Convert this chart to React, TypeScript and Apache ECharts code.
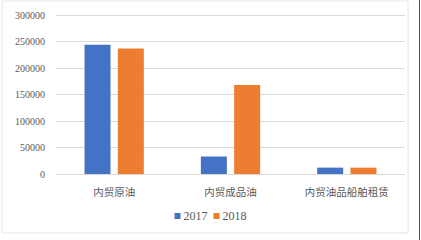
import React, { useEffect, useRef } from "react";
import * as echarts from "echarts";

const categories = ["内贸原油", "内贸成品油", "内贸油品船舶租赁"];
const seriesNames = ["2017", "2018"];
const values2017 = [244000, 33000, 12000];
const values2018 = [237000, 168000, 12000];
const colors = ["#4472C4", "#ED7D31"];

export default function App() {
  const ref = useRef<HTMLDivElement>(null);
  useEffect(() => {
    if (!ref.current) return;
    const chart = echarts.init(ref.current, null, { renderer: "svg" });
    const font = "'Liberation Serif', 'Noto Sans CJK SC', serif";
    chart.setOption({
      animation: false,
      backgroundColor: "#ffffff",
      color: colors,
      grid: { left: 56, right: 16, top: 15, bottom: 66 },
      legend: {
        data: seriesNames,
        bottom: 13,
        left: "center",
        itemWidth: 6,
        itemHeight: 6,
        itemGap: 6,
        icon: "rect",
        textStyle: { color: "#595959", fontSize: 12, fontFamily: font, padding: [0, 0, 0, -2] },
      },
      xAxis: {
        type: "category",
        data: categories,
        axisLine: { lineStyle: { color: "#d9d9d9" } },
        axisTick: { show: false },
        axisLabel: { color: "#595959", fontSize: 10.5, fontFamily: font, margin: 13 },
      },
      yAxis: {
        type: "value",
        min: 0,
        max: 300000,
        interval: 50000,
        axisLine: { show: false },
        axisTick: { show: false },
        axisLabel: {
          color: "#595959",
          fontSize: 10,
          fontFamily: font,
          margin: 11,
          formatter: (v: number) => String(v),
        },
        splitLine: { lineStyle: { color: "#d9d9d9" } },
      },
      series: [
        { name: seriesNames[0], type: "bar", data: values2017, barWidth: 26, barGap: "28%" },
        { name: seriesNames[1], type: "bar", data: values2018, barWidth: 26, barGap: "28%" },
      ],
      graphic: [
        {
          type: "rect",
          shape: { x: 2, y: 1, width: 406, height: 232 },
          style: { fill: "none", stroke: "#e6e6e6", lineWidth: 1 },
          silent: true,
        },
        {
          type: "line",
          shape: { x1: 419.5, y1: 0, x2: 419.5, y2: 240 },
          style: { stroke: "#555555", lineWidth: 1 },
          silent: true,
        },
      ],
    });
    return () => chart.dispose();
  }, []);
  return (
    <div
      ref={ref}
      style={{ position: "fixed", left: 0, top: 0, width: 421, height: 240 }}
    />
  );
}
